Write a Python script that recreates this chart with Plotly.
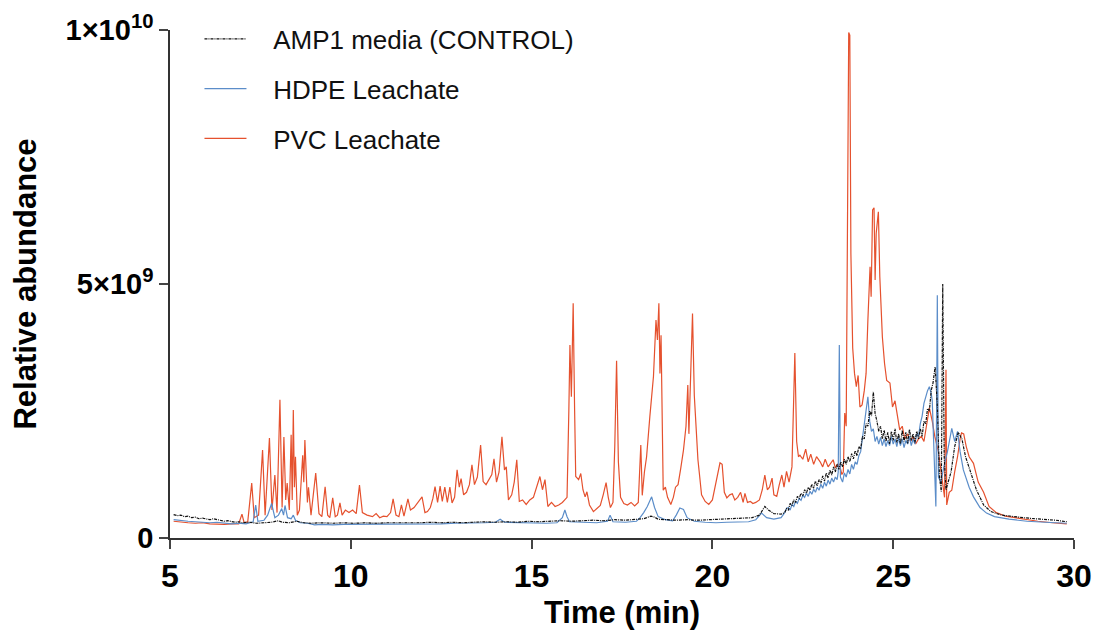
import plotly.graph_objects as go

# ---------------- data (abundance in units of 1e9) ----------------
ctrl_t = [5.10, 5.2, 5.3, 5.4, 5.5, 5.6, 5.7, 5.8, 5.9, 6.0, 6.1, 6.2, 6.3, 6.4, 6.5, 6.6, 6.7, 6.8, 6.9, 7.0,
          7.2, 7.4, 7.6, 7.8, 8.0, 8.1, 8.3, 8.5, 8.7, 8.9, 9.2, 9.5, 9.8, 10.1, 10.4, 10.7, 11.0, 11.3, 11.6,
          11.9, 12.2, 12.5, 12.8, 13.1, 13.4, 13.7, 14.0, 14.3, 14.6, 14.9, 15.2, 15.5, 15.8, 16.1, 16.4, 16.7,
          17.0, 17.3, 17.6, 17.9, 18.1, 18.3, 18.4, 18.5, 18.7, 19.0, 19.3, 19.6, 19.9, 20.2, 20.5, 20.8, 21.1,
          21.3, 21.45, 21.55, 21.7, 21.9,
          22.0, 22.05, 22.1, 22.15, 22.2, 22.25, 22.3, 22.35, 22.4, 22.45, 22.5, 22.55, 22.6, 22.65, 22.7, 22.75,
          22.8, 22.85, 22.9, 22.95, 23.0, 23.05, 23.1, 23.15, 23.2, 23.25, 23.3, 23.35, 23.4, 23.45, 23.5, 23.55,
          23.6, 23.65, 23.7, 23.75, 23.8, 23.85, 23.9, 23.95, 24.0, 24.05, 24.1, 24.15, 24.2, 24.25, 24.3, 24.35,
          24.4, 24.45, 24.5, 24.55, 24.6, 24.65, 24.7, 24.75, 24.8, 24.85, 24.9, 24.95, 25.0, 25.05, 25.1, 25.15,
          25.2, 25.25, 25.3, 25.35, 25.4, 25.45, 25.5, 25.55, 25.6, 25.65, 25.7, 25.75, 25.8, 25.85, 25.9, 25.95,
          26.0, 26.05, 26.1, 26.16, 26.22, 26.28, 26.33, 26.37, 26.41, 26.46, 26.52, 26.6, 26.7, 26.8,
          26.9, 27.0, 27.12, 27.3, 27.5, 27.7, 28.0, 28.3, 28.6, 28.9, 29.2, 29.5, 29.8]
ctrl_y = [0.46, 0.44, 0.45, 0.42, 0.43, 0.40, 0.41, 0.38, 0.39, 0.37, 0.36, 0.38, 0.36, 0.35, 0.33, 0.34, 0.32,
          0.31, 0.32, 0.30, 0.31, 0.29, 0.30, 0.31, 0.34, 0.31, 0.30, 0.33, 0.30, 0.29, 0.30, 0.29, 0.30, 0.29,
          0.30, 0.29, 0.30, 0.30, 0.29, 0.30, 0.31, 0.30, 0.31, 0.30, 0.31, 0.32, 0.31, 0.32, 0.31, 0.33, 0.32,
          0.33, 0.34, 0.33, 0.34, 0.35, 0.34, 0.36, 0.35, 0.36, 0.38, 0.43, 0.41, 0.37, 0.36, 0.35, 0.36, 0.35,
          0.36, 0.37, 0.38, 0.39, 0.40, 0.45, 0.62, 0.55, 0.48, 0.47,
          0.50, 0.58, 0.55, 0.68, 0.64, 0.75, 0.70, 0.82, 0.78, 0.88, 0.83, 0.95, 0.88, 1.00, 0.94, 1.06,
          0.98, 1.12, 1.03, 1.15, 1.08, 1.22, 1.12, 1.28, 1.18, 1.34, 1.24, 1.40, 1.30, 1.45, 1.35, 1.50,
          1.40, 1.55, 1.45, 1.60, 1.50, 1.66, 1.56, 1.72, 1.62, 1.80, 1.75, 2.00, 1.95, 2.25, 2.20, 2.50,
          2.40, 2.88, 2.45, 2.30, 2.10, 2.20, 1.95, 2.12, 1.90, 2.08, 1.85, 2.10, 1.92, 2.15, 1.88, 2.05,
          1.85, 2.12, 1.90, 2.08, 1.86, 2.14, 1.92, 2.05, 1.88, 2.10, 1.95, 2.15, 2.00, 2.30, 2.25, 2.55,
          2.50, 2.90, 3.05, 3.37, 2.60, 1.20, 0.91, 5.00, 1.60, 0.95, 1.10, 1.30, 1.80, 2.08,
          1.95, 1.60, 1.34, 0.95, 0.65, 0.52, 0.45, 0.42, 0.40, 0.38, 0.37, 0.35, 0.32]

hdpe_t = [5.1, 5.3, 5.5, 5.7, 5.9, 6.1, 6.3, 6.5, 6.7, 6.9, 7.1, 7.3, 7.37, 7.43, 7.6, 7.7, 7.81, 7.9, 8.0,
          8.09, 8.14, 8.18, 8.25, 8.35, 8.41, 8.47, 8.6, 8.8, 9.0, 9.2, 9.5, 9.8, 10.1, 10.5, 10.9, 11.3, 11.7,
          12.1, 12.5, 12.9, 13.3, 13.7, 14.0, 14.13, 14.25, 14.6, 15.0, 15.4, 15.7, 15.85, 15.92, 15.98, 16.05,
          16.4, 16.8, 17.1, 17.17, 17.25, 17.6, 17.9, 18.0, 18.1, 18.2, 18.32, 18.4, 18.5, 18.7, 18.9, 19.0,
          19.1, 19.2, 19.3, 19.5, 19.8, 20.1, 20.4, 20.7, 21.0, 21.2, 21.36, 21.5, 21.7, 21.9,
          22.0, 22.05, 22.1, 22.15, 22.2, 22.25, 22.3, 22.35, 22.4, 22.45, 22.5, 22.55, 22.6, 22.65, 22.7, 22.75,
          22.8, 22.85, 22.9, 22.95, 23.0, 23.05, 23.1, 23.15, 23.2, 23.25, 23.3, 23.35, 23.4, 23.45, 23.48,
          23.51, 23.54, 23.6, 23.65, 23.7, 23.75, 23.8, 23.85, 23.9, 23.95, 24.0, 24.05, 24.1, 24.15, 24.2,
          24.25, 24.3, 24.35, 24.4, 24.45, 24.5, 24.55, 24.6, 24.65, 24.7, 24.75, 24.8, 24.85, 24.9, 24.95,
          25.0, 25.05, 25.1, 25.15, 25.2, 25.25, 25.3, 25.35, 25.4, 25.45, 25.5, 25.55, 25.6, 25.65, 25.7,
          25.75, 25.8, 25.85, 25.9, 25.95, 26.0, 26.05, 26.08,
          26.13, 26.18, 26.2, 26.22, 26.25, 26.32, 26.4, 26.5, 26.62, 26.7, 26.78, 26.85, 26.94, 27.1, 27.22,
          27.4, 27.58, 27.8, 28.2, 28.7, 29.2, 29.8]
hdpe_y = [0.36, 0.34, 0.33, 0.32, 0.31, 0.30, 0.31, 0.29, 0.28, 0.29, 0.28, 0.32, 0.65, 0.33, 0.35, 0.45,
          0.68, 0.40, 0.45, 0.58, 0.45, 0.64, 0.40, 0.38, 0.45, 0.35, 0.30, 0.29, 0.26, 0.27, 0.26, 0.27, 0.27,
          0.28, 0.27, 0.28, 0.27, 0.28, 0.28, 0.29, 0.29, 0.30, 0.31, 0.37, 0.31, 0.30, 0.30, 0.29, 0.30, 0.40,
          0.55, 0.42, 0.32, 0.31, 0.30, 0.33, 0.45, 0.32, 0.31, 0.33, 0.40, 0.50, 0.62, 0.81, 0.60, 0.42, 0.36,
          0.34, 0.45, 0.59, 0.56, 0.40, 0.33, 0.31, 0.30, 0.31, 0.31, 0.32, 0.36, 0.49, 0.40, 0.37, 0.40,
          0.50, 0.58, 0.60, 0.55, 0.66, 0.62, 0.72, 0.68, 0.78, 0.74, 0.84, 0.80, 0.88, 0.82, 0.92, 0.86,
          0.96, 0.90, 1.00, 0.94, 1.06, 0.98, 1.10, 1.02, 1.14, 1.06, 1.18, 1.10, 1.20, 1.15, 1.30,
          3.80, 1.20, 1.10, 1.28, 1.20, 1.35, 1.26, 1.45, 1.35, 1.50, 1.45, 1.62, 1.70, 2.00, 2.30,
          2.50, 2.78, 2.30, 2.10, 2.15, 1.90, 2.00, 1.85, 1.98, 1.82, 1.95, 1.80, 1.92, 1.82, 2.00,
          1.85, 1.95, 1.80, 1.98, 1.82, 1.95, 1.78, 1.92, 1.85, 2.00, 1.82, 1.95, 1.85, 2.05, 2.00,
          2.25, 2.40, 2.65, 2.80, 2.90, 2.98, 2.85, 2.70,
          1.50, 0.62, 2.50, 4.78, 1.20, 1.10, 1.40, 1.70, 2.16, 1.90, 2.10, 1.70, 1.34, 1.00, 0.81,
          0.60, 0.49, 0.42, 0.37, 0.33, 0.31, 0.29]

pvc_t = [5.1, 5.3, 5.5, 5.7, 5.9, 6.1, 6.3, 6.5, 6.7, 6.9, 6.99, 7.05, 7.15, 7.26, 7.33, 7.45, 7.56, 7.63,
         7.75, 7.82, 7.90, 7.96, 8.04, 8.10, 8.15, 8.20, 8.24, 8.30, 8.35, 8.38, 8.41, 8.44, 8.47, 8.52, 8.58,
         8.67, 8.70, 8.73, 8.80, 8.83, 8.90, 9.03, 9.12, 9.20, 9.29, 9.36, 9.42, 9.50, 9.57, 9.63, 9.70, 9.76,
         9.85, 9.95, 10.05, 10.15, 10.24, 10.32, 10.45, 10.6, 10.7, 10.8, 10.9, 11.0, 11.1, 11.17, 11.25,
         11.33, 11.40, 11.47, 11.58, 11.65, 11.75, 11.85, 11.97, 12.05, 12.12, 12.2, 12.27, 12.33, 12.40,
         12.47, 12.53, 12.6, 12.67, 12.74, 12.8, 12.87, 12.94, 13.0, 13.05, 13.12, 13.2, 13.28, 13.35, 13.42,
         13.5, 13.59, 13.66, 13.74, 13.82, 13.9, 13.96, 14.03, 14.1, 14.18, 14.25, 14.30, 14.36, 14.45, 14.52,
         14.59, 14.66, 14.75, 14.85, 14.95, 15.05, 15.12, 15.23, 15.3, 15.37, 15.45, 15.55, 15.65, 15.75,
         15.85, 15.92, 15.98, 16.03, 16.06, 16.1, 16.15, 16.19, 16.22, 16.3, 16.36, 16.42, 16.48, 16.53, 16.6,
         16.71, 16.8, 16.9, 16.98, 17.06, 17.12, 17.18, 17.25, 17.3, 17.35, 17.40, 17.46, 17.55, 17.65, 17.75,
         17.85, 17.95, 18.02, 18.06, 18.12, 18.18, 18.27, 18.32, 18.37, 18.44, 18.48, 18.52, 18.55, 18.58,
         18.62, 18.64, 18.7, 18.76, 18.85, 18.92, 18.98, 19.05, 19.12, 19.2, 19.27, 19.32, 19.35, 19.41, 19.45,
         19.5, 19.56, 19.6, 19.65, 19.7, 19.8, 19.9, 20.0, 20.07, 20.14, 20.21, 20.27, 20.33, 20.4, 20.48,
         20.55, 20.62, 20.7, 20.78, 20.85, 20.9, 20.97, 21.05, 21.12, 21.2, 21.3, 21.38, 21.45, 21.52, 21.58,
         21.65, 21.7, 21.78, 21.85, 21.92, 21.98, 22.05, 22.12, 22.2, 22.25, 22.28, 22.33, 22.38, 22.42, 22.5,
         22.58, 22.65, 22.72, 22.8, 22.88, 22.98, 23.05, 23.12, 23.2, 23.28, 23.34, 23.4, 23.46, 23.53, 23.58,
         23.62, 23.66, 23.70, 23.74, 23.77, 23.80, 23.83, 23.88, 23.93, 23.98, 24.03, 24.08, 24.14, 24.2,
         24.25, 24.3, 24.36, 24.39, 24.43, 24.47, 24.5, 24.53, 24.59, 24.63, 24.7, 24.76, 24.82, 24.91, 24.98,
         25.05, 25.1, 25.18, 25.25, 25.32, 25.4, 25.48, 25.55, 25.62, 25.7, 25.78, 25.85, 25.92, 26.0, 26.08,
         26.15, 26.25, 26.35, 26.42, 26.46, 26.48, 26.55, 26.62, 26.7, 26.78, 26.85, 26.89, 26.95, 27.02,
         27.1, 27.22, 27.35, 27.5, 27.65, 27.85, 28.1, 28.5, 29.0, 29.4, 29.8]
pvc_y = [0.33, 0.31, 0.30, 0.29, 0.30, 0.28, 0.27, 0.27, 0.28, 0.28, 0.47, 0.30, 0.32, 1.08, 0.40, 0.45,
         1.73, 0.45, 1.97, 0.55, 1.24, 0.50, 2.72, 0.60, 1.99, 0.75, 1.08, 0.55, 2.03, 0.75, 2.52, 1.00, 1.60,
         0.45, 0.55, 1.63, 1.10, 1.93, 0.70, 1.00, 0.45, 1.28, 0.48, 0.42, 1.01, 0.45, 0.40, 0.79, 0.42, 0.45,
         0.69, 0.45, 0.55, 0.50, 0.55, 0.48, 1.04, 0.50, 0.45, 0.42, 0.48, 0.40, 0.43, 0.42, 0.50, 0.77, 0.45,
         0.42, 0.65, 0.43, 0.77, 0.55, 0.60, 0.70, 0.81, 0.50, 0.52, 0.60, 0.78, 1.01, 0.70, 1.02, 0.72, 1.00,
         0.70, 1.00, 0.69, 0.80, 1.34, 1.00, 1.17, 0.85, 0.90, 1.05, 1.44, 1.05, 1.20, 1.83, 1.11, 1.05, 1.15,
         1.25, 1.56, 1.10, 1.30, 1.99, 1.34, 1.40, 0.75, 0.85, 1.10, 1.54, 0.72, 0.75, 0.66, 0.75, 0.80, 0.95,
         1.21, 0.95, 1.15, 0.62, 0.70, 0.62, 0.65, 0.70, 0.75, 0.80, 2.50, 3.80, 2.78, 4.62, 2.50, 1.21, 1.15,
         1.27, 0.95, 0.81, 0.91, 0.65, 0.52, 0.58, 0.64, 0.85, 1.09, 0.80, 0.60, 0.70, 1.80, 3.49, 1.50, 0.80,
         0.68, 0.65, 0.70, 0.63, 0.70, 1.83, 0.84, 1.30, 1.60, 2.39, 2.80, 3.18, 4.29, 3.90, 4.62, 3.24, 3.99,
         1.50, 0.94, 1.00, 0.80, 0.66, 0.80, 1.00, 1.05, 1.35, 1.73, 2.20, 3.01, 2.05, 3.74, 4.42, 2.80, 2.00,
         1.54, 1.20, 0.85, 0.72, 0.66, 0.75, 1.00, 1.20, 1.48, 1.45, 0.90, 0.79, 0.85, 0.87, 0.75, 0.80, 0.90,
         0.70, 0.88, 0.70, 0.72, 0.68, 0.70, 0.75, 0.95, 1.24, 0.95, 1.00, 1.18, 0.85, 0.82, 1.05, 1.24, 1.00,
         1.31, 1.10, 1.40, 2.80, 3.64, 1.90, 1.60, 1.63, 1.55, 1.75, 1.50, 1.65, 1.45, 1.60, 1.50, 1.40, 1.55,
         1.40, 1.47, 1.54, 1.38, 1.45, 1.40, 1.25, 1.30, 2.46, 2.20, 6.00, 9.95, 9.90, 5.60, 3.74, 3.24, 2.98,
         3.20, 2.58, 2.62, 2.90, 3.24, 4.29, 5.34, 4.75, 6.46, 6.50, 5.08, 6.00, 6.42, 5.14, 3.96, 3.44, 3.10,
         3.05, 2.58, 2.70, 2.46, 2.13, 2.20, 1.95, 2.05, 1.90, 2.00, 1.85, 1.95, 2.00, 1.90, 2.20, 2.56, 2.30,
         2.00, 1.70, 1.20, 0.80, 3.31, 0.65, 0.90, 0.94, 1.30, 1.60, 1.95, 2.07, 2.05, 1.80, 1.60, 1.47, 1.10,
         0.90, 0.62, 0.50, 0.43, 0.38, 0.33, 0.30, 0.28]

series_names = ["AMP1 media (CONTROL)", "HDPE Leachate", "PVC Leachate"]
x_ticks = [5, 10, 15, 20, 25, 30]
y_ticks = [0, 5, 10]
y_tick_text = ["0", "5×10<sup>9</sup>", "1×10<sup>10</sup>"]

RED = "#E5512E"
BLUE = "#5B8DC9"
BLACK = "#111111"
PAD = "\u00a0\u00a0\u00a0"  # visual gap between legend line and label

fig = go.Figure()
fig.add_trace(go.Scatter(x=pvc_t, y=pvc_y, mode="lines", name=PAD + series_names[2], legendrank=3,
                         legendgroup="c", line=dict(color=RED, width=1.2)))
fig.add_trace(go.Scatter(x=hdpe_t, y=hdpe_y, mode="lines", name=PAD + series_names[1], legendrank=2,
                         legendgroup="b", line=dict(color=BLUE, width=1.2)))
fig.add_trace(go.Scatter(x=ctrl_t, y=ctrl_y, mode="lines", name=PAD + series_names[0], legendrank=1,
                         legendgroup="a", line=dict(color=BLACK, width=1.2, dash="3px,1px,1px,1px")))

FONT = "Liberation Sans, Arial, Helvetica"
fig.update_layout(
    width=1093, height=623,
    margin=dict(l=162, r=27, t=22, b=93, autoexpand=False),
    plot_bgcolor="white", paper_bgcolor="white",
    showlegend=True,
    legend=dict(x=0.0326, y=1.0287, xanchor="left", yanchor="top", bgcolor="rgba(0,0,0,0)",
                font=dict(family=FONT, size=26, color="#111"),
                itemwidth=42, tracegroupgap=13),
    xaxis=dict(range=[5, 30], tickvals=x_ticks, ticks="outside", ticklen=9, tickwidth=1.5,
               tickcolor="#444", showline=True, linecolor="#333", linewidth=1.5, showgrid=False,
               zeroline=False, automargin=False,
               tickfont=dict(family=FONT, size=32, color="#000", weight="bold"),
               title=dict(text="Time (min)", standoff=8,
                          font=dict(family=FONT, size=31, color="#000", weight="bold"))),
    yaxis=dict(range=[0, 10], tickvals=y_ticks, ticktext=y_tick_text, ticks="outside", ticklen=9,
               tickwidth=1.5, tickcolor="#444", showline=True, linecolor="#333", linewidth=1.5,
               showgrid=False, zeroline=False, automargin=False,
               tickfont=dict(family=FONT, size=29, color="#000", weight="bold"),
               title=dict(text="Relative abundance", standoff=24,
                          font=dict(family=FONT, size=31, color="#000", weight="bold"))),
)

fig.write_html("out.html")
